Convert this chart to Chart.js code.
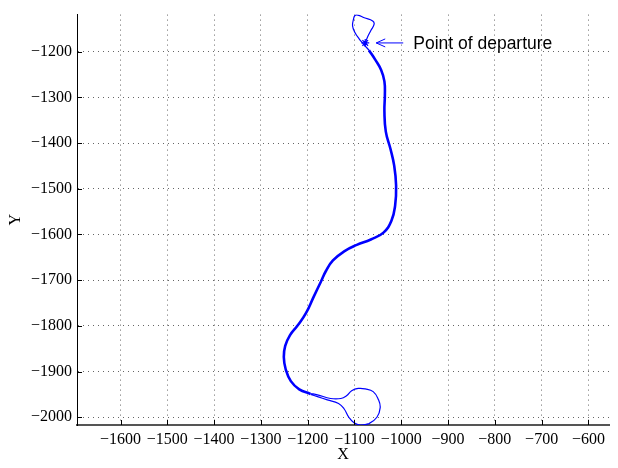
<!DOCTYPE html>
<html>
<head>
<meta charset="utf-8">
<script src="https://cdn.jsdelivr.net/npm/chart.js@4"></script>
<style>
  body { margin: 0; background: #fff; }
  .chart { width: 618px; height: 468px; }
</style>
</head>
<body>
<div class="chart"><canvas id="chart"></canvas></div>
<script>
// tick values on the axes
const xTicks = [-1600, -1500, -1400, -1300, -1200, -1100, -1000, -900, -800, -700, -600];
const yTicks = [-2000, -1900, -1800, -1700, -1600, -1500, -1400, -1300, -1200];

// point of departure
const startX = [-1077];
const startY = [-1181];

// small loop near the start (single pass)
const topLoopX = [-1077, -1072, -1065, -1058, -1061, -1079, -1093, -1099, -1102, -1104, -1099, -1090, -1081, -1069];
const topLoopY = [-1181, -1168, -1154, -1140, -1133, -1126, -1120, -1121, -1129, -1144, -1158, -1172, -1183, -1197];

// main track (travelled out and back)
const mainX = [-1069, -1056, -1043, -1036, -1035, -1036, -1033, -1023, -1015, -1011, -1013, -1021, -1038, -1065, -1095,
  -1122, -1146, -1161, -1172, -1187, -1204, -1222, -1238, -1248, -1251, -1247, -1236, -1218, -1194];
const mainY = [-1197, -1217, -1240, -1265, -1295, -1330, -1375, -1413, -1450, -1493, -1536, -1570, -1596, -1611, -1623,
  -1637, -1657, -1680, -1704, -1736, -1773, -1800, -1821, -1844, -1868, -1895, -1921, -1939, -1949];

// turnaround loop at the far end
const bottomLoopX = [-1194, -1179, -1151, -1129, -1117, -1106, -1092, -1077, -1060, -1049, -1045, -1052, -1069, -1087,
  -1101, -1112, -1122, -1134, -1158, -1179, -1194];
const bottomLoopY = [-1948, -1951, -1959, -1959, -1953, -1942, -1937, -1938, -1944, -1961, -1979, -2000, -2014, -2017,
  -2012, -2000, -1982, -1970, -1962, -1955, -1950];

const toPoints = (xs, ys) => xs.map((x, i) => ({ x, y: ys[i] }));
const minus = (v) => (v < 0 ? "\u2212" : "") + Math.abs(v);

const BLUE = "rgb(0, 0, 255)";
const tickFont = { family: "'Liberation Serif', 'DejaVu Serif', serif", size: 16 };

const trackLine = (label, pts, width) => ({
  label,
  data: pts,
  showLine: true,
  borderColor: BLUE,
  borderWidth: width,
  pointRadius: 0,
  tension: 0.45,
  fill: false,
});

// inward ticks, like the original plot
const inwardTicks = {
  id: "inwardTicks",
  afterDraw: (chart) => {
    const ctx = chart.ctx;
    const { left, bottom } = chart.chartArea;
    const xScale = chart.scales.x;
    const yScale = chart.scales.y;
    ctx.save();
    ctx.strokeStyle = "#000";
    ctx.lineWidth = 1;
    ctx.beginPath();
    xTicks.forEach((v) => {
      const px = Math.round(xScale.getPixelForValue(v)) + 0.5;
      ctx.moveTo(px, bottom);
      ctx.lineTo(px, bottom - 5);
    });
    yTicks.forEach((v) => {
      const py = Math.round(yScale.getPixelForValue(v)) + 0.5;
      ctx.moveTo(left, py);
      ctx.lineTo(left + 5, py);
    });
    ctx.stroke();
    ctx.restore();
  },
};

// arrow and text pointing at the departure point
const departureNote = {
  id: "departureNote",
  afterDraw: (chart) => {
    const ctx = chart.ctx;
    const px = chart.scales.x.getPixelForValue(startX[0]);
    const py = chart.scales.y.getPixelForValue(startY[0]);
    const tip = px + 11;
    ctx.save();
    ctx.strokeStyle = BLUE;
    ctx.lineWidth = 1;
    ctx.beginPath();
    ctx.moveTo(px + 38, py);
    ctx.lineTo(tip, py);
    ctx.moveTo(tip + 9, py - 4);
    ctx.lineTo(tip, py);
    ctx.lineTo(tip + 9, py + 4);
    ctx.stroke();
    ctx.fillStyle = "#000";
    ctx.font = "17.5px 'Liberation Sans', Arial, sans-serif";
    ctx.textBaseline = "alphabetic";
    ctx.fillText("Point of departure", px + 48, py + 6);
    ctx.restore();
  },
};

new Chart(document.getElementById("chart"), {
  type: "scatter",
  data: {
    datasets: [
      trackLine("main", toPoints(mainX, mainY), 2.6),
      trackLine("top loop", toPoints(topLoopX, topLoopY), 1.2),
      trackLine("bottom loop", toPoints(bottomLoopX, bottomLoopY), 1.2),
      {
        label: "start",
        data: toPoints(startX, startY),
        pointStyle: "star",
        pointRadius: 4,
        borderColor: BLUE,
        borderWidth: 1.2,
        backgroundColor: BLUE,
      },
    ],
  },
  options: {
    responsive: true,
    maintainAspectRatio: false,
    animation: false,
    layout: { padding: { left: 0, right: 9, top: 5, bottom: 0 } },
    scales: {
      x: {
        type: "linear",
        min: -1693,
        max: -556,
        afterBuildTicks: (scale) => {
          scale.ticks = xTicks.map((value) => ({ value }));
        },
        afterFit: (scale) => {
          scale.height = 43;
        },
        ticks: {
          color: "#000",
          font: tickFont,
          padding: 5,
          maxRotation: 0,
          autoSkip: false,
          callback: (v) => minus(v),
        },
        grid: {
          color: "rgba(0, 0, 0, 0.6)",
          lineWidth: 1,
          drawTicks: false,
        },
        border: { display: true, color: "#555", width: 2, dash: [1, 4] },
        title: {
          display: true,
          text: "X",
          color: "#000",
          font: tickFont,
          padding: { top: 4, bottom: 4 },
        },
      },
      y: {
        type: "linear",
        min: -2017,
        max: -1119,
        afterBuildTicks: (scale) => {
          scale.ticks = yTicks.map((value) => ({ value }));
        },
        afterFit: (scale) => {
          scale.width = 77;
        },
        ticks: {
          color: "#000",
          font: tickFont,
          padding: 5,
          autoSkip: false,
          callback: (v) => minus(v),
        },
        grid: {
          color: "rgba(0, 0, 0, 0.6)",
          lineWidth: 1,
          drawTicks: false,
        },
        border: { display: true, color: "#000", width: 1, dash: [1, 4] },
        title: {
          display: true,
          text: "Y",
          color: "#000",
          font: tickFont,
          padding: { top: 6, bottom: 4 },
        },
      },
    },
    plugins: {
      legend: { display: false },
      tooltip: { enabled: false },
    },
  },
  plugins: [inwardTicks, departureNote],
});
</script>
</body>
</html>
